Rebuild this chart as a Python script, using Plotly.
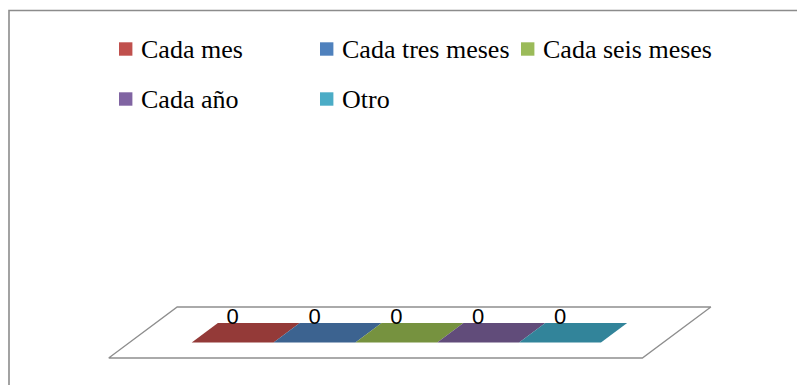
import plotly.graph_objects as go

# ---- data -------------------------------------------------------------
categories = ["Cada mes", "Cada tres meses", "Cada seis meses", "Cada año", "Otro"]
values = [0, 0, 0, 0, 0]
legend_colors = ["#C0504D", "#4F81BD", "#9BBB59", "#8064A2", "#4BACC6"]
face_colors = ["#943A38", "#3C6390", "#76923F", "#614C7A", "#32849A"]

# ---- page / projection settings ----------------------------------------
W, H = 797, 385
ORIGIN_X, ORIGIN_Y = 170.9, 358.0   # front-left corner of the first category slot
UNIT_X = 81.85                       # width of one category slot
DEPTH_X, DEPTH_Y = 68.5, 51.0        # oblique offset of the full floor depth
HEIGHT_K = 200.0                     # page pixels per value unit
BAR_D0, BAR_D1 = 0.304, 0.686        # bar depth span inside the floor
FLOOR_PAD = 0.76                     # floor margin around the category slots

GRID = "#8e8e8e"
SERIF = "Liberation Serif, Times New Roman, serif"
SANS = "Liberation Sans, Arial, sans-serif"


def project(u, d, h=0.0):
    """Oblique projection: category position u, depth d, value h -> page."""
    return (ORIGIN_X + u * UNIT_X + d * DEPTH_X,
            ORIGIN_Y - d * DEPTH_Y - h * HEIGHT_K)


def poly(points):
    xs, ys = zip(*[project(*p) for p in points])
    return list(xs) + [xs[0]], list(ys) + [ys[0]]


fig = go.Figure()

# floor of the 3-D plot area
n = len(categories)
fx, fy = poly([(-FLOOR_PAD, 0), (n + FLOOR_PAD, 0), (n + FLOOR_PAD, 1), (-FLOOR_PAD, 1)])
fig.add_trace(go.Scatter(x=fx, y=fy, mode="lines", fill="toself", fillcolor="white",
                         line=dict(color=GRID, width=1.3), hoverinfo="skip", showlegend=False))

# bars: front face, right side and top face of each block
label_x, label_y, label_t = [], [], []
for i, (name, v, col) in enumerate(zip(categories, values, face_colors)):
    faces = [
        [(i, BAR_D0, 0), (i + 1, BAR_D0, 0), (i + 1, BAR_D0, v), (i, BAR_D0, v)],
        [(i + 1, BAR_D0, 0), (i + 1, BAR_D1, 0), (i + 1, BAR_D1, v), (i + 1, BAR_D0, v)],
        [(i, BAR_D0, v), (i + 1, BAR_D0, v), (i + 1, BAR_D1, v), (i, BAR_D1, v)],
    ]
    for face in faces:
        px, py = poly(face)
        fig.add_trace(go.Scatter(x=px, y=py, mode="lines", fill="toself", fillcolor=col,
                                 line=dict(width=0, color=col), name=name,
                                 hoverinfo="skip", showlegend=False))
    lx, _ = project(i + 0.5, BAR_D0, v)
    _, ly = project(i + 0.5, BAR_D1, v)
    label_x.append(lx)
    label_y.append(ly - 4.5)
    label_t.append(str(v))

fig.add_trace(go.Scatter(x=label_x, y=label_y, mode="text", text=label_t,
                         textposition="middle center",
                         textfont=dict(family=SANS, size=22, color="black"),
                         hoverinfo="skip", showlegend=False))

# legend: three columns, two rows
LEG_X0, LEG_DX = 119.0, 201.0
LEG_Y0, LEG_DY = 49.0, 50.0
SQ = 13.4
shapes = [dict(type="rect", xref="x", yref="y", x0=9, y0=10.5, x1=W + 10, y1=H + 10,
               line=dict(color="#8c8c8c", width=1.6), fillcolor="rgba(0,0,0,0)", layer="below")]
annotations = []
for k, (name, col) in enumerate(zip(categories, legend_colors)):
    cx = LEG_X0 + (k % 3) * LEG_DX
    cy = LEG_Y0 + (k // 3) * LEG_DY
    shapes.append(dict(type="rect", xref="x", yref="y", x0=cx, x1=cx + SQ,
                       y0=cy - SQ / 2, y1=cy + SQ / 2, fillcolor=col, line=dict(width=0)))
    annotations.append(dict(x=cx + SQ + 6.5, y=cy, xref="x", yref="y", text=name,
                            showarrow=False, xanchor="left", yanchor="middle",
                            font=dict(family=SERIF, size=26, color="black")))

fig.update_layout(
    width=W, height=H,
    margin=dict(l=0, r=0, t=0, b=0),
    paper_bgcolor="white", plot_bgcolor="white",
    xaxis=dict(range=[0, W], visible=False, fixedrange=True),
    yaxis=dict(range=[H, 0], visible=False, fixedrange=True),
    shapes=shapes, annotations=annotations,
    showlegend=False,
)

fig.write_html("out.html")
